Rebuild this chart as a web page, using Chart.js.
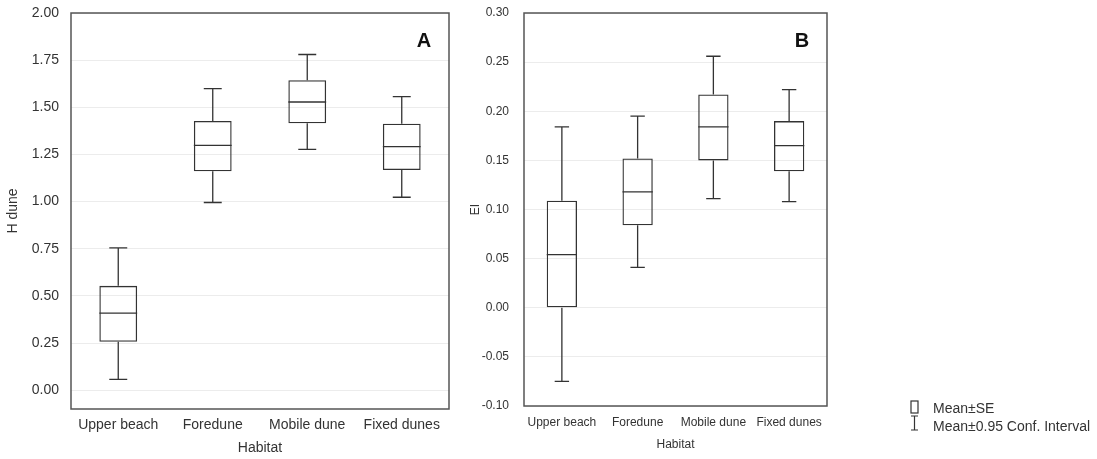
<!DOCTYPE html>
<html>
<head>
<meta charset="utf-8">
<script src="https://cdn.jsdelivr.net/npm/chart.js@4"></script>
<style>
  body { margin: 0; background: #fff; }
  #a { position: absolute; left: 0; top: 0; }
  #b { position: absolute; left: 460px; top: 0; }
</style>
</head>
<body>
<canvas id="a" width="460" height="459"></canvas>
<canvas id="b" width="637" height="459"></canvas>
<script>
const categories = ['Upper beach', 'Foredune', 'Mobile dune', 'Fixed dunes'];

// Panel A: H dune
const hMean   = [0.408, 1.298, 1.528, 1.291];
const hSeLow  = [0.257, 1.161, 1.415, 1.167];
const hSeHigh = [0.553, 1.427, 1.644, 1.413];
const hCiLow  = [0.057, 0.995, 1.277, 1.023];
const hCiHigh = [0.754, 1.599, 1.780, 1.557];
const hRange = [-0.1, 2.0];
const hStep = 0.25;

// Panel B: EI
const eMean   = [0.054, 0.118, 0.184, 0.165];
const eSeLow  = [0.000, 0.084, 0.150, 0.139];
const eSeHigh = [0.109, 0.152, 0.217, 0.190];
const eCiLow  = [-0.075, 0.041, 0.111, 0.108];
const eCiHigh = [0.184, 0.195, 0.256, 0.222];
const eRange = [-0.1, 0.3];
const eStep = 0.05;

const FONT = '"Liberation Sans", Arial, sans-serif';
const INK = '#333';

// whiskers, caps, mean line, frame, panel letter, legend
const boxPlugin = {
  id: 'boxPlugin',
  afterDatasetsDraw(chart) {
    const ds = chart.data.datasets[0];
    const x = chart.scales.x, y = chart.scales.y;
    const ctx = chart.ctx;
    const cat = x.getPixelForValue(1) - x.getPixelForValue(0);
    const half = cat * 0.2;
    const cap = cat * 0.095;
    ctx.save();
    ctx.strokeStyle = INK;
    ctx.lineWidth = 1.3;
    ds.mean.forEach((m, i) => {
      const cx = x.getPixelForValue(i);
      const [lo, hi] = ds.data[i];
      ctx.beginPath();
      ctx.moveTo(cx, y.getPixelForValue(hi));
      ctx.lineTo(cx, y.getPixelForValue(ds.ciHigh[i]));
      ctx.moveTo(cx, y.getPixelForValue(lo));
      ctx.lineTo(cx, y.getPixelForValue(ds.ciLow[i]));
      ctx.moveTo(cx - cap, y.getPixelForValue(ds.ciHigh[i]));
      ctx.lineTo(cx + cap, y.getPixelForValue(ds.ciHigh[i]));
      ctx.moveTo(cx - cap, y.getPixelForValue(ds.ciLow[i]));
      ctx.lineTo(cx + cap, y.getPixelForValue(ds.ciLow[i]));
      ctx.moveTo(cx - half, y.getPixelForValue(m));
      ctx.lineTo(cx + half, y.getPixelForValue(m));
      ctx.stroke();
    });
    ctx.restore();
  },
  afterDraw(chart, args, opts) {
    const a = chart.chartArea;
    const ctx = chart.ctx;
    ctx.save();
    ctx.strokeStyle = '#555';
    ctx.lineWidth = 1.5;
    ctx.strokeRect(a.left, a.top, a.right - a.left, a.bottom - a.top);
    ctx.fillStyle = '#111';
    ctx.font = 'bold 20px ' + FONT;
    ctx.textAlign = 'center';
    ctx.textBaseline = 'middle';
    ctx.fillText(opts.letter, a.right - 25, a.top + 28);
    if (opts.legend) {
      const lx = a.right + 84;
      ctx.strokeStyle = INK;
      ctx.lineWidth = 1.2;
      ctx.strokeRect(lx, 401, 7, 12);
      ctx.beginPath();
      ctx.moveTo(lx + 3.5, 416); ctx.lineTo(lx + 3.5, 430);
      ctx.moveTo(lx, 416); ctx.lineTo(lx + 7, 416);
      ctx.moveTo(lx, 430); ctx.lineTo(lx + 7, 430);
      ctx.stroke();
      ctx.fillStyle = INK;
      ctx.font = '14px ' + FONT;
      ctx.textAlign = 'left';
      ctx.fillText('Mean±SE', lx + 22, 409);
      ctx.fillText('Mean±0.95 Conf. Interval', lx + 22, 427);
    }
    ctx.restore();
  }
};

function makeChart(id, o) {
  return new Chart(document.getElementById(id), {
    type: 'bar',
    data: {
      labels: categories,
      datasets: [{
        data: o.seLow.map((v, i) => [v, o.seHigh[i]]),
        mean: o.mean,
        ciLow: o.ciLow,
        ciHigh: o.ciHigh,
        backgroundColor: 'rgba(255,255,255,0)',
        borderColor: INK,
        borderWidth: 1.3,
        borderSkipped: false,
        barPercentage: 0.4,
        categoryPercentage: 1
      }]
    },
    options: {
      responsive: false,
      animation: false,
      layout: { padding: { left: 0, right: o.padRight, top: 13, bottom: 0 } },
      plugins: {
        legend: { display: false },
        tooltip: { enabled: false },
        boxPlugin: { letter: o.letter, legend: o.legend }
      },
      scales: {
        x: {
          afterFit: s => { s.height = o.xHeight; },
          grid: { display: false, drawTicks: false },
          border: { display: false },
          ticks: { color: INK, font: { family: FONT, size: o.fontSize }, padding: o.xPad, maxRotation: 0 },
          title: { display: true, text: 'Habitat', color: INK, font: { family: FONT, size: o.fontSize }, padding: { top: o.titlePad, bottom: o.titlePad } }
        },
        y: {
          min: o.range[0],
          max: o.range[1],
          afterFit: s => { s.width = o.yWidth; s.paddingTop = 0; s.paddingBottom = 0; },
          grid: { color: '#ececec', drawTicks: false },
          border: { display: false },
          ticks: {
            stepSize: o.step,
            includeBounds: false,
            color: INK,
            padding: o.yPad,
            font: { family: FONT, size: o.fontSize },
            callback: v => (Math.abs(v) < 1e-9 ? 0 : v).toFixed(2)
          },
          title: { display: true, text: o.yTitle, color: INK, font: { family: FONT, size: o.fontSize }, padding: { top: o.yTitlePad, bottom: o.yTitlePad } }
        }
      }
    },
    plugins: [boxPlugin]
  });
}

makeChart('a', {
  seLow: hSeLow, seHigh: hSeHigh, mean: hMean, ciLow: hCiLow, ciHigh: hCiHigh,
  range: hRange, step: hStep, yTitle: 'H dune', letter: 'A', legend: false,
  padRight: 11, xHeight: 50, yWidth: 71, fontSize: 14, xPad: 8, yPad: 12, titlePad: 2, yTitlePad: 5
});

makeChart('b', {
  seLow: eSeLow, seHigh: eSeHigh, mean: eMean, ciLow: eCiLow, ciHigh: eCiHigh,
  range: eRange, step: eStep, yTitle: 'EI', letter: 'B', legend: true,
  padRight: 270, xHeight: 53, yWidth: 64, fontSize: 12, xPad: 9, yPad: 15, titlePad: 7, yTitlePad: 8
});
</script>
</body>
</html>
